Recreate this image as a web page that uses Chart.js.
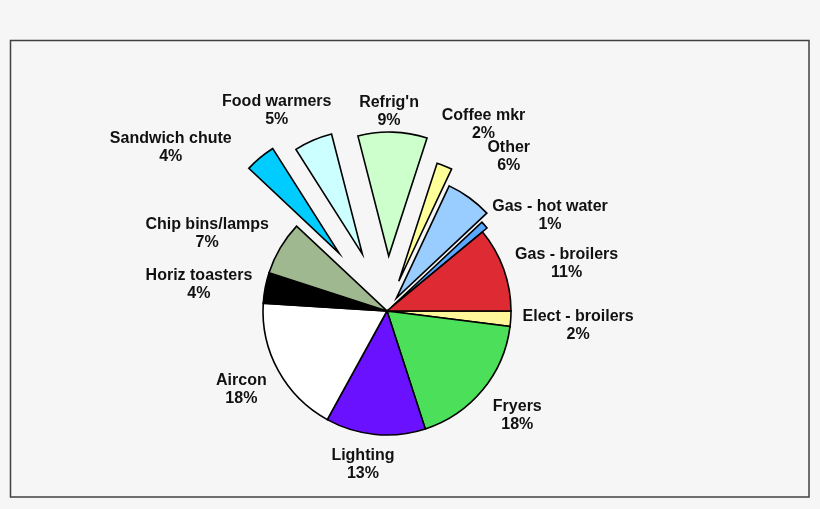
<!DOCTYPE html>
<html>
<head>
<meta charset="utf-8">
<script src="https://cdn.jsdelivr.net/npm/chart.js@4.4.1/dist/chart.umd.min.js"></script>
<style>
  html, body { margin: 0; padding: 0; background: #f6f6f6; }
  #wrap { width: 820px; height: 509px; position: relative; }
</style>
</head>
<body>
<div id="wrap"><canvas id="myChart"></canvas></div>
<script>
// energy use by end use, percent
const categories = ["Elect - broilers", "Fryers", "Lighting", "Aircon", "Horiz toasters",
  "Chip bins/lamps", "Sandwich chute", "Food warmers", "Refrig'n", "Coffee mkr",
  "Other", "Gas - hot water", "Gas - broilers"];
const shares = [2, 18, 13, 18, 4, 7, 4, 5, 9, 2, 6, 1, 11];

const colors = ["#fff799", "#4ce05a", "#6a12ff", "#ffffff", "#000000", "#a0b890",
  "#00ccff", "#ccffff", "#ccffcc", "#ffff99", "#99ccff", "#5aa8ff", "#dd2a33"];
// how far each slice is pulled out of the pie (px)
const explode = [0, 0, 0, 0, 0, 0, 75, 62, 55, 32, 16, 6, 0];
// small hand moves of the labels, like the original placement
const labelNudge = [[0, 5], [11, 6], [-11, 0], [-7, 4], [-3, 2], [-17, 1],
  [-57, 13], [-23, -2], [-4, 9], [29, -13], [25, -17], [24, 10], [6, 5]];

const ctx = document.getElementById("myChart");

// draw the slices ourselves so exploded ones are a pure shift
const explodePlugin = {
  id: "explode",
  beforeDatasetDraw(chart, args) {
    const c = chart.ctx;
    args.meta.data.forEach((arc, i) => {
      const mid = (arc.startAngle + arc.endAngle) / 2;
      c.save();
      c.translate(Math.cos(mid) * explode[i], Math.sin(mid) * explode[i]);
      arc.draw(c);
      c.restore();
    });
    return false;
  }
};

const framePlugin = {
  id: "frame",
  beforeDraw(chart) {
    const c = chart.ctx;
    c.save();
    c.fillStyle = "#f6f6f6";
    c.fillRect(0, 0, chart.width, chart.height);
    c.strokeStyle = "#404040";
    c.lineWidth = 1.5;
    c.strokeRect(10.5, 40.5, 798.5, 456.5);
    c.restore();
  }
};

const labelPlugin = {
  id: "sliceLabels",
  afterDatasetsDraw(chart) {
    const c = chart.ctx;
    const meta = chart.getDatasetMeta(0);
    c.save();
    c.font = "bold 16px 'Liberation Sans', Arial, sans-serif";
    c.fillStyle = "#111";
    c.textAlign = "center";
    c.textBaseline = "middle";
    meta.data.forEach((arc, i) => {
      const lines = [categories[i], shares[i] + "%"];
      const w = Math.max(...lines.map(t => c.measureText(t).width));
      const h = 36;
      const mid = (arc.startAngle + arc.endAngle) / 2;
      const r = arc.outerRadius + explode[i] + 12;
      const cx = arc.x + Math.cos(mid) * (r + w / 2 * Math.abs(Math.cos(mid))) + labelNudge[i][0];
      const cy = arc.y + Math.sin(mid) * r + Math.sin(mid) * h / 2 + labelNudge[i][1];
      c.fillText(lines[0], cx, cy - 9);
      c.fillText(lines[1], cx, cy + 9);
    });
    c.restore();
  }
};

new Chart(ctx, {
  type: "pie",
  data: {
    labels: categories,
    datasets: [{
      data: shares,
      backgroundColor: colors,
      borderColor: "#000",
      borderWidth: 1.6,
      borderJoinStyle: "miter"
    }]
  },
  options: {
    responsive: true,
    maintainAspectRatio: false,
    animation: false,
    rotation: 90,
    radius: 124,
    layout: { padding: { left: 100, right: 146, top: 179, bottom: 66 } },
    plugins: {
      legend: { display: false },
      tooltip: { enabled: false }
    },
    events: []
  },
  plugins: [framePlugin, explodePlugin, labelPlugin]
});
</script>
</body>
</html>
